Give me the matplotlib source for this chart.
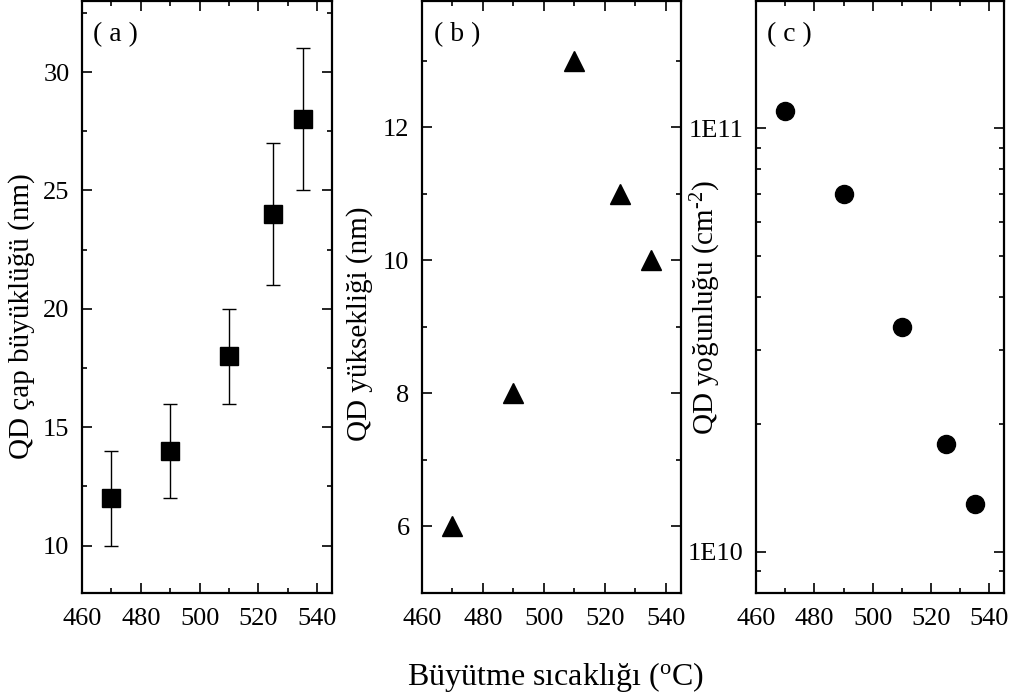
import math
import matplotlib
matplotlib.use('Agg')
import matplotlib.pyplot as plt
from matplotlib.ticker import MultipleLocator, LogLocator, FuncFormatter, NullFormatter

plt.rcParams['font.family'] = ['Liberation Serif', 'DejaVu Serif']
plt.rcParams['mathtext.fontset'] = 'custom'
plt.rcParams['mathtext.rm'] = 'Liberation Serif'
plt.rcParams['mathtext.it'] = 'Liberation Serif'

# growth temperatures (C)
temps = [470, 490, 510, 525, 535]

# (a) QD diameter with error bars
diameter = [12, 14, 18, 24, 28]
diameter_err = [2, 2, 2, 3, 3]

# (b) QD height
height = [6, 8, 13, 11, 10]

# (c) QD density
density = [1.1e11, 7.0e10, 3.4e10, 1.8e10, 1.3e10]

fig = plt.figure(figsize=(10.14, 6.96), dpi=100)
ax_a = fig.add_axes([0.0809, 0.148, 0.2465, 0.8506])
ax_b = fig.add_axes([0.4162, 0.148, 0.2554, 0.8506])
ax_c = fig.add_axes([0.7456, 0.148, 0.2446, 0.8506])


def style(ax):
    for sp in ax.spines.values():
        sp.set_linewidth(1.6)
    ax.tick_params(which='both', direction='in', top=True, right=True,
                   width=1.2, labelsize=19)
    ax.tick_params(which='major', length=7)
    ax.tick_params(which='minor', length=3.5)
    ax.tick_params(axis='x', which='major', pad=11)
    ax.tick_params(axis='y', which='major', pad=9)
    ax.set_xlim(460, 545)
    ax.xaxis.set_major_locator(MultipleLocator(20))
    ax.xaxis.set_minor_locator(MultipleLocator(10))


# panel a
ax_a.errorbar(temps, diameter, yerr=diameter_err, fmt='s', color='black',
              markersize=13, ecolor='black', elinewidth=1, capsize=5, capthick=1)
style(ax_a)
ax_a.set_ylim(8, 33)
ax_a.yaxis.set_major_locator(MultipleLocator(5))
ax_a.yaxis.set_minor_locator(MultipleLocator(2.5))
ax_a.set_ylabel('QD çap büyüklüğü (nm)', fontsize=21)
ax_a.yaxis.set_label_coords(-0.188, 0.468)
ax_a.text(0.045, 0.965, '( a )', transform=ax_a.transAxes, fontsize=20,
          ha='left', va='top')

# panel b
ax_b.plot(temps, height, '^', color='black', markersize=15, linestyle='none')
style(ax_b)
ax_b.set_ylim(5, 13.9)
ax_b.yaxis.set_major_locator(MultipleLocator(2))
ax_b.yaxis.set_minor_locator(MultipleLocator(1))
ax_b.set_ylabel('QD yüksekliği (nm)', fontsize=21)
ax_b.yaxis.set_label_coords(-0.189, 0.455)
ax_b.text(0.045, 0.965, '( b )', transform=ax_b.transAxes, fontsize=20,
          ha='left', va='top')

# panel c
ax_c.plot(temps, density, 'o', color='black', markersize=13, linestyle='none')
ax_c.set_yscale('log')
style(ax_c)
ax_c.set_ylim(8e9, 2e11)
ax_c.yaxis.set_major_locator(LogLocator(base=10))
ax_c.yaxis.set_minor_locator(LogLocator(base=10, subs=range(2, 10)))
ax_c.yaxis.set_major_formatter(FuncFormatter(lambda v, p: '1E%d' % round(math.log10(v))))
ax_c.yaxis.set_minor_formatter(NullFormatter())
ax_c.set_ylabel('QD yoğunluğu (cm$^{\u2010\\mathrm{2}}$)', fontsize=21)
ax_c.yaxis.set_label_coords(-0.133, 0.483)
ax_c.text(0.045, 0.965, '( c )', transform=ax_c.transAxes, fontsize=20,
          ha='left', va='top')

fig.text(0.548, 0.028, 'Büyütme sıcaklığı ($^{\\mathrm{o}}$C)', fontsize=23,
         ha='center', va='center')

fig.savefig('out.png', dpi=100)
